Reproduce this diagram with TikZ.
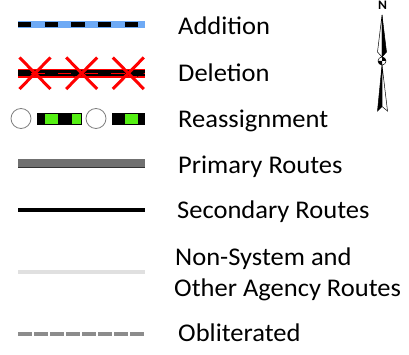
\documentclass[tikz,border=0pt]{standalone}
\usepackage{fontspec}
\setmainfont{Carlito}[FakeStretch=1.04]
\definecolor{addblue}{RGB}{110,170,245}
\definecolor{reagreen}{RGB}{85,240,20}
\definecolor{prigray}{RGB}{112,112,112}
\definecolor{pridark}{RGB}{50,50,50}
\definecolor{nsgray}{RGB}{224,224,224}
\definecolor{oblgray}{RGB}{140,140,140}
\begin{document}
\begin{tikzpicture}[x=1pt,y=-1pt,
  lbl/.style={anchor=base west,inner sep=0pt,font=\fontsize{25.5}{30}\selectfont},
  xmark/.style={draw=red,line width=3pt},
  needle/.style={draw=black,line width=0.5pt,line join=miter}]
\useasboundingbox (0,0) rectangle (409,355);
% ---------- Addition ----------
\coordinate (a1) at (18,24.8); \coordinate (a2) at (145,24.8);
\draw[addblue,line width=7pt] (a1) -- (a2);
\draw[black,line width=5pt,dash pattern=on 13.33pt off 13.33pt] (a1) -- (a2);
\node[lbl] (tadd) at (178,35) {Addition};
% ---------- Deletion ----------
\coordinate (d1) at (18,73.3); \coordinate (d2) at (145,73.3);
\draw[red,line width=8.5pt] (d1) -- (d2);
\draw[black,line width=6pt] (d1) -- (d2);
\draw[red,line width=1.3pt] (d1) -- (d2);
\draw[black,line width=6pt,dash pattern=on 13.33pt off 13.33pt] (d1) -- (d2);
\foreach \ax in {73.5,137} {
  \fill[black] (\ax,69.8) -- (\ax+7,73.3) -- (\ax,76.8) -- cycle;
}
\foreach \cx in {35,81.7,128.3} {
  \draw[xmark] (\cx-15.5,57.5) -- (\cx+15.5,89);
  \draw[xmark] (\cx-15.5,89) -- (\cx+15.5,57.5);
}
\node[lbl] (tdel) at (178,81.7) {Deletion};
% ---------- Reassignment ----------
\node[draw=gray,line width=0.8pt,circle,minimum size=20pt,inner sep=0pt] (c1) at (21,118.5) {};
\node[draw=gray,line width=0.8pt,circle,minimum size=20pt,inner sep=0pt] (c2) at (96,118.5) {};
\fill[black] (36.7,112.6) rectangle (81.7,124.6);
\fill[black] (111.7,112.6) rectangle (145,124.6);
\fill[reagreen] (45,113.6) rectangle (58.3,123.6);
\fill[reagreen] (71.7,113.6) rectangle (80.7,123.6);
\fill[reagreen] (125,113.6) rectangle (138.3,123.6);
\node[lbl] (trea) at (178,127.3) {Reassignment};
% ---------- Primary ----------
\fill[prigray] (18,159) rectangle (145,167.3);
\fill[pridark] (18,167.3) rectangle (145,168.5);
\node[lbl] (tpri) at (178,173.3) {Primary Routes};
% ---------- Secondary ----------
\coordinate (s1) at (18,210); \coordinate (s2) at (145,210);
\draw[black,line width=4pt] (s1) -- (s2);
\node[lbl] (tsec) at (177,218.3) {Secondary Routes};
% ---------- Non-System ----------
\coordinate (n1) at (18,272); \coordinate (n2) at (145,272);
\draw[nsgray,line width=4pt] (n1) -- (n2);
\node[lbl] (tns1) at (175,265) {Non-System and};
\node[lbl] (tns2) at (174,296.7) {Other Agency Routes};
% ---------- Obliterated ----------
\coordinate (o1) at (18.3,334); \coordinate (o2) at (144,334);
\draw[oblgray,line width=4pt,dash pattern=on 13.33pt off 2.67pt] (o1) -- (o2);
\node[lbl] (tobl) at (178,341.7) {Obliterated};
% ---------- North arrow ----------
\node[anchor=base,inner sep=0pt,font=\bfseries\fontsize{13}{15}\selectfont] (nn) at (382.5,9.6) {N};
\filldraw[needle,fill=white] (382,15) -- (377.5,52) -- (382,57) -- cycle;
\filldraw[needle,fill=black] (382,15) -- (386.5,52) -- (382,57) -- cycle;
\filldraw[needle,fill=black] (382,65) -- (377.5,111) -- (382,106.5) -- cycle;
\filldraw[needle,fill=white] (382,65) -- (387.5,111) -- (382,106.5) -- cycle;
\fill[white] (382,61) circle (4);
\fill[black] (382,61) -- (378,61) arc (180:90:4) -- cycle;
\fill[black] (382,61) -- (386,61) arc (0:-90:4) -- cycle;
\draw[black,line width=0.5pt] (382,61) circle (4);
\end{tikzpicture}
\end{document}
